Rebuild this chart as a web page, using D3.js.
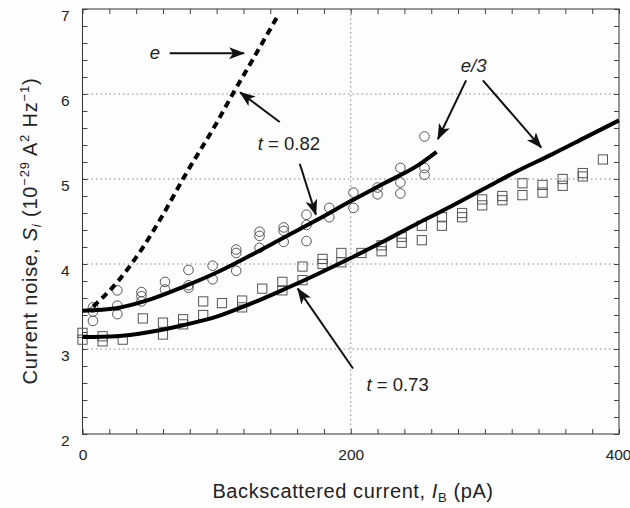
<!DOCTYPE html>
<html>
<head>
<meta charset="utf-8">
<script src="https://cdn.jsdelivr.net/npm/d3@7"></script>
<style>
  html, body { margin: 0; padding: 0; background: #fdfdfd; }
  svg { display: block; font-family: "Liberation Sans", Arial, sans-serif; }
</style>
</head>
<body>
<div id="chart"></div>
<script>
// measured points, t = 0.82 (circles)
const circleX = [7.8, 26, 44, 61.5, 79, 97, 114.6, 132, 150, 167, 184, 202, 220, 237, 255];
const circleY = [
  [3.49, 3.44, 3.33], [3.69, 3.51, 3.41], [3.67, 3.62, 3.56], [3.79, 3.70],
  [3.93, 3.75, 3.72], [3.98, 3.82], [4.17, 4.13, 3.92], [4.38, 4.33, 4.19],
  [4.43, 4.39, 4.26], [4.58, 4.46, 4.27], [4.66, 4.55], [4.84, 4.66],
  [4.90, 4.82], [5.13, 4.96, 4.83], [5.50, 5.13, 5.05]
];

// measured points, t = 0.73 (squares)
const squareX = [0, 15, 30, 45, 60, 75, 90, 104, 119, 134, 149, 164, 179, 193,
  208, 223, 238, 253, 268, 283, 298, 313, 328, 343, 358, 373, 388];
const squareY = [
  [3.19, 3.11], [3.15, 3.09], [3.11], [3.36], [3.31, 3.17], [3.35, 3.29],
  [3.56, 3.40], [3.54], [3.57, 3.49], [3.71], [3.79, 3.69], [3.97, 3.81],
  [4.06, 4.00], [4.13, 4.02], [4.13], [4.22, 4.15], [4.32, 4.25], [4.45, 4.28],
  [4.55, 4.45], [4.60, 4.55], [4.76, 4.69], [4.80, 4.75], [4.95, 4.81],
  [4.93, 4.84], [5.00, 4.92], [5.07, 5.03], [5.23]
];

// theory curves
const fitHighX = [0, 25, 50, 75, 100, 125, 150, 175, 200, 225, 250, 264];
const fitHighY = [3.45, 3.48, 3.58, 3.73, 3.90, 4.10, 4.31, 4.52, 4.74, 4.95, 5.16, 5.32];
const fitLowX = [0, 25, 50, 75, 100, 125, 150, 175, 200, 225, 250, 275, 300, 325, 350, 375, 400];
const fitLowY = [3.14, 3.15, 3.20, 3.28, 3.38, 3.53, 3.70, 3.88, 4.07, 4.27, 4.48, 4.68, 4.89, 5.10, 5.29, 5.49, 5.69];
const chargeEX = [8, 25, 44, 60, 76, 100, 112, 126, 146];
const chargeEY = [3.50, 3.77, 4.17, 4.58, 5.03, 5.66, 6.00, 6.38, 6.93];

const xTicks = [0, 200, 400];
const yTicks = [2, 3, 4, 5, 6, 7];
const gridY = [3, 4, 5, 6];
const gridX = [200];

// annotation arrows, in data units (tail -> head)
const arrows = [
  [65, 6.48, 120.5, 6.48],
  [147, 5.67, 117.5, 6.02],
  [162, 5.18, 174, 4.58],
  [286, 6.16, 265, 5.47],
  [298.5, 6.16, 342, 5.37],
  [201.7, 2.77, 160.5, 3.71]
];

const width = 630, height = 508;
const x = d3.scaleLinear().domain([0, 400]).range([82.5, 619]);
const y = d3.scaleLinear().domain([2, 7]).range([434, 9]);

const svg = d3.select('#chart').append('svg')
  .attr('width', width)
  .attr('height', height);

svg.append('defs').append('marker')
    .attr('id', 'head')
    .attr('markerUnits', 'userSpaceOnUse')
    .attr('markerWidth', 16)
    .attr('markerHeight', 12)
    .attr('refX', 15)
    .attr('refY', 6)
    .attr('orient', 'auto')
  .append('path')
    .attr('d', 'M0,0 L16,6 L0,12 L4,6 Z')
    .attr('fill', '#111');

// grid
svg.append('g').selectAll('line.gy')
  .data(gridY).enter().append('line')
    .attr('x1', x(0)).attr('x2', x(400))
    .attr('y1', d => y(d)).attr('y2', d => y(d))
    .attr('stroke', '#888').attr('stroke-width', 1)
    .attr('stroke-dasharray', '1.5,3');
svg.append('g').selectAll('line.gx')
  .data(gridX).enter().append('line')
    .attr('x1', d => x(d)).attr('x2', d => x(d))
    .attr('y1', y(2)).attr('y2', y(7))
    .attr('stroke', '#888').attr('stroke-width', 1)
    .attr('stroke-dasharray', '1.5,3');

// axes, ticks inward
const xMinor = d3.range(0, 21).map(i => i * 20);
const yMinor = d3.range(0, 26).map(i => 2 + i * 0.2);
const isMajorY = d => yTicks.some(t => Math.abs(t - d) < 1e-6);

const gBottom = svg.append('g').attr('transform', `translate(0,${y(2)})`)
  .call(d3.axisBottom(x).tickValues(xMinor).tickSizeInner(-5).tickSizeOuter(0)
    .tickPadding(15).tickFormat(d => xTicks.includes(d) ? d : ''));
const gTop = svg.append('g').attr('transform', `translate(0,${y(7)})`)
  .call(d3.axisTop(x).tickValues(xMinor).tickSizeInner(-5).tickSizeOuter(0).tickFormat(''));
const gLeft = svg.append('g').attr('transform', `translate(${x(0)},0)`)
  .call(d3.axisLeft(y).tickValues(yMinor).tickSizeInner(-5).tickSizeOuter(0)
    .tickPadding(13).tickFormat(d => isMajorY(d) ? Math.round(d) : ''));
const gRight = svg.append('g').attr('transform', `translate(${x(400)},0)`)
  .call(d3.axisRight(y).tickValues(yMinor).tickSizeInner(-5).tickSizeOuter(0).tickFormat(''));

[gBottom, gTop, gLeft, gRight].forEach(g => {
  g.select('.domain').remove();
  g.selectAll('line').attr('stroke', '#444');
  g.selectAll('text').attr('font-size', 15.5).attr('fill', '#222')
    .attr('font-family', '"Liberation Sans", Arial, sans-serif');
});
gLeft.selectAll('text').attr('dy', '0.72em');
// last label sits against the right edge, as in the original
gBottom.selectAll('text').filter(d => d === 400).attr('text-anchor', 'end').attr('dx', 12);

svg.append('rect')
  .attr('x', x(0)).attr('y', y(7))
  .attr('width', x(400) - x(0)).attr('height', y(2) - y(7))
  .attr('fill', 'none').attr('stroke', '#333').attr('stroke-width', 1);

// markers
const circles = circleX.flatMap((cx, i) => circleY[i].map(v => [cx, v]));
const squares = squareX.flatMap((sx, i) => squareY[i].map(v => [sx, v]));

svg.append('g').selectAll('circle')
  .data(circles).enter().append('circle')
    .attr('cx', d => x(d[0])).attr('cy', d => y(d[1]))
    .attr('r', 4.8)
    .attr('fill', 'none').attr('stroke', '#555').attr('stroke-width', 1);

svg.append('g').selectAll('rect')
  .data(squares).enter().append('rect')
    .attr('x', d => x(d[0]) - 4.6).attr('y', d => y(d[1]) - 4.6)
    .attr('width', 9.2).attr('height', 9.2)
    .attr('fill', 'none').attr('stroke', '#555').attr('stroke-width', 1);

// curves
const line = d3.line().x(d => x(d[0])).y(d => y(d[1])).curve(d3.curveMonotoneX);
const zipXY = (xs, ys) => xs.map((v, i) => [v, ys[i]]);

svg.append('path').datum(zipXY(fitHighX, fitHighY))
  .attr('d', line).attr('fill', 'none').attr('stroke', '#000').attr('stroke-width', 4);
svg.append('path').datum(zipXY(fitLowX, fitLowY))
  .attr('d', line).attr('fill', 'none').attr('stroke', '#000').attr('stroke-width', 4);
svg.append('path').datum(zipXY(chargeEX, chargeEY))
  .attr('d', line).attr('fill', 'none').attr('stroke', '#000').attr('stroke-width', 4)
  .attr('stroke-dasharray', '7,5');

// annotation arrows
svg.append('g').selectAll('line')
  .data(arrows).enter().append('line')
    .attr('x1', d => x(d[0])).attr('y1', d => y(d[1]))
    .attr('x2', d => x(d[2])).attr('y2', d => y(d[3]))
    .attr('stroke', '#111').attr('stroke-width', 2)
    .attr('marker-end', 'url(#head)');

// annotation labels
const lab = svg.append('g').attr('font-size', 18.5).attr('fill', '#222');
lab.append('text').attr('x', x(54)).attr('y', y(6.48)).attr('dy', '0.3em')
  .attr('text-anchor', 'middle').attr('font-style', 'italic').text('e');

const t82 = lab.append('text').attr('x', x(130.7)).attr('y', y(5.42)).attr('dy', '0.36em');
t82.append('tspan').attr('font-style', 'italic').text('t');
t82.append('tspan').text(' = 0.82');

lab.append('text').attr('x', x(291.6)).attr('y', y(6.34)).attr('dy', '0.36em')
  .attr('text-anchor', 'middle').attr('font-style', 'italic').text('e/3');

const t73 = lab.append('text').attr('x', x(211.7)).attr('y', y(2.58)).attr('dy', '0.36em');
t73.append('tspan').attr('font-style', 'italic').text('t');
t73.append('tspan').text(' = 0.73');

// axis titles
const xTitle = svg.append('text')
  .attr('x', 353).attr('y', 498)
  .attr('text-anchor', 'middle').attr('font-size', 20).attr('letter-spacing', 0.6)
  .attr('fill', '#222');
xTitle.append('tspan').text('Backscattered current, ');
xTitle.append('tspan').attr('font-style', 'italic').text('I');
xTitle.append('tspan').attr('font-size', 13).attr('dy', 4).text('B');
xTitle.append('tspan').attr('dy', -4).text(' (pA)');

const yTitle = svg.append('text')
  .attr('transform', 'translate(37,231) rotate(-90)')
  .attr('text-anchor', 'middle').attr('font-size', 20).attr('letter-spacing', 0.8)
  .attr('fill', '#222');
yTitle.append('tspan').text('Current noise, ');
yTitle.append('tspan').attr('font-style', 'italic').text('S');
yTitle.append('tspan').attr('font-style', 'italic').attr('font-size', 13).attr('dy', 4).text('i');
yTitle.append('tspan').attr('dy', -4).text(' (10');
yTitle.append('tspan').attr('font-size', 13).attr('dy', -8).text('\u221229');
yTitle.append('tspan').attr('dy', 8).text(' A');
yTitle.append('tspan').attr('font-size', 13).attr('dy', -8).text('2');
yTitle.append('tspan').attr('dy', 8).text(' Hz');
yTitle.append('tspan').attr('font-size', 13).attr('dy', -8).text('\u22121');
yTitle.append('tspan').attr('dy', 8).text(')');
</script>
</body>
</html>
